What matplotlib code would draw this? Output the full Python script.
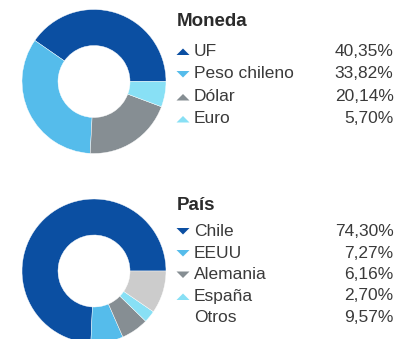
import matplotlib
matplotlib.use("Agg")
import matplotlib.pyplot as plt
from matplotlib.patches import Polygon

W, H = 409, 339

# Currency breakdown
moneda_title = "Moneda"
moneda_labels = ["UF", "Peso chileno", "Dólar", "Euro"]
moneda_values = [40.35, 33.82, 20.14, 5.70]
moneda_colors = ["#0B4FA2", "#55BCEB", "#868E93", "#88E0F5"]
moneda_markers = ["up", "down", "up", "up"]

# Country breakdown
pais_title = "País"
pais_labels = ["Chile", "EEUU", "Alemania", "España", "Otros"]
pais_values = [74.30, 7.27, 6.16, 2.70, 9.57]
pais_colors = ["#0B4FA2", "#55BCEB", "#868E93", "#88E0F5", "#CCCCCC"]
pais_markers = ["down", "down", "down", "up", None]

plt.rcParams["font.family"] = ["Liberation Sans", "DejaVu Sans"]

fig = plt.figure(figsize=(W / 100, H / 100), dpi=100)
ax = fig.add_axes([0, 0, 1, 1])

TEXT = "#3a3a3a"
TITLE = "#2b2b2b"
FS = 12.5


def fmt(v):
    return f"{v:.2f}".replace(".", ",") + "%"


def donut(center, values, colors):
    ax.pie(values, colors=colors, startangle=0, counterclock=True,
           radius=72, center=center,
           wedgeprops=dict(width=36, edgecolor="white", linewidth=0.3))


def legend(title, labels, values, colors, markers, y_title, y_rows):
    ax.text(177, H - y_title, title, fontsize=13.5, fontweight="bold",
            color=TITLE, va="center", ha="left")
    for lab, val, col, mk, y in zip(labels, values, colors, markers, y_rows):
        yy = H - y
        ax.text(194, yy, lab, fontsize=FS, color=TEXT, va="center", ha="left")
        ax.text(393.5, yy, fmt(val), fontsize=FS, color=TEXT, va="center", ha="right")
        if mk == "up":
            pts = [(176.5, yy - 4), (189.5, yy - 4), (183, yy + 2.5)]
        elif mk == "down":
            pts = [(176.5, yy + 3), (189.5, yy + 3), (183, yy - 3.5)]
        else:
            continue
        ax.add_patch(Polygon(pts, closed=True, facecolor=col, edgecolor="none"))


donut((94, H - 81.5), moneda_values, moneda_colors)
donut((94, H - 271), pais_values, pais_colors)

legend(moneda_title, moneda_labels, moneda_values, moneda_colors, moneda_markers,
       22, [51, 74, 96.5, 118.5])
legend(pais_title, pais_labels, pais_values, pais_colors, pais_markers,
       206, [231, 253, 274.5, 296, 318])

ax.set_xlim(0, W)
ax.set_ylim(0, H)
ax.set_aspect("equal")
ax.axis("off")

fig.savefig("out.png", dpi=100, facecolor="white")
